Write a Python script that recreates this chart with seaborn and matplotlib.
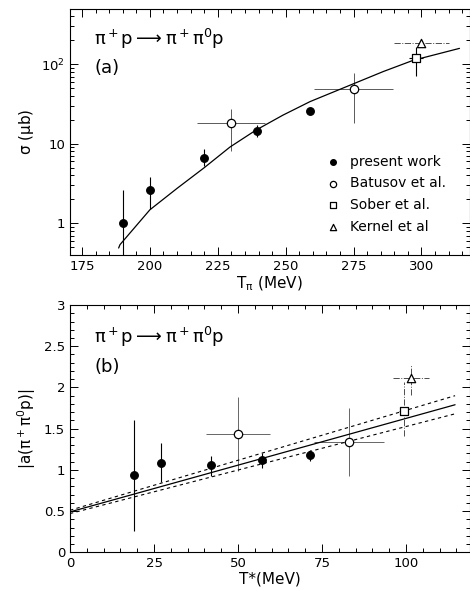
import numpy as np
import pandas as pd
import matplotlib
matplotlib.use("Agg")
import matplotlib.pyplot as plt
import seaborn as sns
from matplotlib.ticker import MultipleLocator, FixedLocator, FixedFormatter, LogLocator, NullFormatter

# ---- panel (a): cross section vs T_pi ----
pw_T = [190, 200, 220, 239.5, 259]
pw_sig = [1.0, 2.65, 6.7, 14.6, 26]
pw_lo = [0.4, 1.5, 5.2, 12.0, 26]
pw_hi = [2.6, 3.8, 8.5, 17.0, 26]

bat_T = [230, 275]
bat_sig = [18.2, 48.6]
bat_xerr = [12.5, 14.5]
bat_lo = [8.0, 18.2]
bat_hi = [27.5, 77]

sob_T = [298]
sob_sig = [119]
sob_xerr = [2.5]
sob_lo = [71]
sob_hi = [166]

ker_T = [300]
ker_sig = [183]
ker_xerr = [10]

fit_T = [188.5, 189, 200, 210, 220, 229.5, 239, 249, 259, 274, 286, 297, 314]
fit_sig = [0.49, 0.54, 1.48, 2.75, 5.0, 9.1, 14.8, 22.9, 33.9, 55, 81, 112, 158]

# ---- panel (b): amplitude vs T* ----
b_pw_T = [19, 27, 42, 57, 71.5]
b_pw_a = [0.936, 1.082, 1.058, 1.123, 1.176]
b_pw_lo = [0.26, 0.85, 0.92, 1.02, 1.11]
b_pw_hi = [1.60, 1.32, 1.17, 1.21, 1.24]

b_bat_T = [50, 83]
b_bat_a = [1.44, 1.34]
b_bat_xerr = [9.5, 10.5]
b_bat_lo = [0.99, 0.93]
b_bat_hi = [1.88, 1.75]

b_sob_T = [99.5]
b_sob_a = [1.72]
b_sob_xerr = [1.5]
b_sob_lo = [1.41]
b_sob_hi = [2.06]

b_ker_T = [101.5]
b_ker_a = [2.12]
b_ker_xerr = [5.4]
b_ker_lo = [1.91]
b_ker_hi = [2.27]

line_T = [0, 114.6]
line_mid = [0.49, 1.79]
line_up = [0.51, 1.90]
line_dn = [0.47, 1.68]

sns.set_style("ticks", {"axes.edgecolor": "black", "text.color": "black",
                        "xtick.color": "black", "ytick.color": "black",
                        "axes.labelcolor": "black"})
plt.rcParams['font.family'] = ['DejaVu Sans']
plt.rcParams['mathtext.fontset'] = 'dejavusans'
plt.rcParams['mathtext.default'] = 'regular'

fig = plt.figure(figsize=(4.7, 5.91), dpi=100)
ax1 = fig.add_axes([0.149, 0.5685, 0.85, 0.4163])
ax2 = fig.add_axes([0.149, 0.0655, 0.85, 0.4184])


def ebar(ax, x, y, lo, hi, xerr=None, ls="-", color="k", lw=0.8):
    yerr = [np.array(y) - np.array(lo), np.array(hi) - np.array(y)]
    _, _, bars = ax.errorbar(x, y, yerr=yerr, xerr=xerr, fmt="none",
                             ecolor=color, elinewidth=lw, capsize=0, zorder=2)
    for b in bars:
        b.set_linestyle(ls)


def markers(ax, x, y, marker, fc, s, label=None):
    sns.scatterplot(x=x, y=y, ax=ax, marker=marker, s=s, facecolor=fc,
                    edgecolor="k", linewidth=0.9, zorder=4, label=label)


# panel a
ax1.set_yscale("log")
sns.lineplot(x=fit_T, y=fit_sig, ax=ax1, color="k", lw=0.9, zorder=3)
ebar(ax1, pw_T, pw_sig, pw_lo, pw_hi)
ebar(ax1, bat_T, bat_sig, bat_lo, bat_hi, xerr=bat_xerr, color="0.35", lw=0.7)
ebar(ax1, sob_T, sob_sig, sob_lo, sob_hi, xerr=sob_xerr)
ebar(ax1, ker_T, ker_sig, ker_sig, ker_sig, xerr=ker_xerr, ls="-.", color="0.3", lw=0.7)
markers(ax1, pw_T, pw_sig, "o", "k", 30, "present work")
markers(ax1, bat_T, bat_sig, "o", "white", 36, "Batusov et al.")
markers(ax1, sob_T, sob_sig, "s", "white", 36, "Sober et al.")
markers(ax1, ker_T, ker_sig, "^", "white", 36, "Kernel et al")

ax1.set_xlim(170.6, 317.7)
ax1.set_ylim(0.4, 494)
ax1.xaxis.set_major_locator(MultipleLocator(25))
ax1.xaxis.set_minor_locator(MultipleLocator(5))
ax1.yaxis.set_major_locator(FixedLocator([1, 10, 100]))
ax1.yaxis.set_major_formatter(FixedFormatter(["1", "10", "$10^2$"]))
ax1.yaxis.set_minor_locator(LogLocator(base=10, subs=np.arange(2, 10)))
ax1.yaxis.set_minor_formatter(NullFormatter())
ax1.set_xlabel(r"T$_\pi$ (MeV)", fontsize=11, labelpad=1)
ax1.set_ylabel(r"$\sigma$ ($\mu$b)", fontsize=11, labelpad=4)
ax1.text(0.06, 0.88, r"$\pi^+p\longrightarrow\pi^+\pi^0p$", transform=ax1.transAxes,
         fontsize=13, va="center")
ax1.text(0.06, 0.76, "(a)", transform=ax1.transAxes, fontsize=13, va="center")
ax1.legend(loc="upper left", bbox_to_anchor=(0.61, 0.43), frameon=False,
           fontsize=10, handletextpad=0.2, labelspacing=0.55, markerscale=0.75,
           borderaxespad=0)

# panel b
sns.lineplot(x=line_T, y=line_mid, ax=ax2, color="k", lw=0.9, zorder=3)
sns.lineplot(x=line_T, y=line_up, ax=ax2, color="k", lw=0.8, ls=(0, (3, 3)), zorder=3)
sns.lineplot(x=line_T, y=line_dn, ax=ax2, color="k", lw=0.8, ls=(0, (3, 3)), zorder=3)
ebar(ax2, b_pw_T, b_pw_a, b_pw_lo, b_pw_hi)
ebar(ax2, b_bat_T, b_bat_a, b_bat_lo, b_bat_hi, xerr=b_bat_xerr, color="0.4", lw=0.7)
ebar(ax2, b_sob_T, b_sob_a, b_sob_lo, b_sob_hi, xerr=b_sob_xerr, ls="-.", color="0.3", lw=0.7)
ebar(ax2, b_ker_T, b_ker_a, b_ker_lo, b_ker_hi, xerr=b_ker_xerr, ls="-.", color="0.3", lw=0.7)
markers(ax2, b_pw_T, b_pw_a, "o", "k", 30)
markers(ax2, b_bat_T, b_bat_a, "o", "white", 36)
markers(ax2, b_sob_T, b_sob_a, "s", "white", 36)
markers(ax2, b_ker_T, b_ker_a, "^", "white", 36)

ax2.set_xlim(0, 118.9)
ax2.set_ylim(0, 3)
ax2.xaxis.set_major_locator(MultipleLocator(25))
ax2.xaxis.set_minor_locator(MultipleLocator(5))
ax2.set_yticks([0, 0.5, 1, 1.5, 2, 2.5, 3])
ax2.set_yticklabels(["0", "0.5", "1", "1.5", "2", "2.5", "3"])
ax2.yaxis.set_minor_locator(MultipleLocator(0.1))
ax2.set_xlabel("T*(MeV)", fontsize=11, labelpad=1)
ax2.set_ylabel(r"|a($\pi^+\pi^0$p)|", fontsize=11, labelpad=4)
ax2.text(0.06, 0.87, r"$\pi^+p\longrightarrow\pi^+\pi^0p$", transform=ax2.transAxes,
         fontsize=13, va="center")
ax2.text(0.06, 0.75, "(b)", transform=ax2.transAxes, fontsize=13, va="center")

for ax in (ax1, ax2):
    ax.tick_params(which="both", direction="in", top=True, right=True,
                   labelsize=9.5, width=0.7, colors="black")
    ax.tick_params(which="major", length=6)
    ax.tick_params(which="minor", length=3)
    for sp in ax.spines.values():
        sp.set_linewidth(0.8)
        sp.set_color("black")

fig.savefig("out.png", dpi=100)
